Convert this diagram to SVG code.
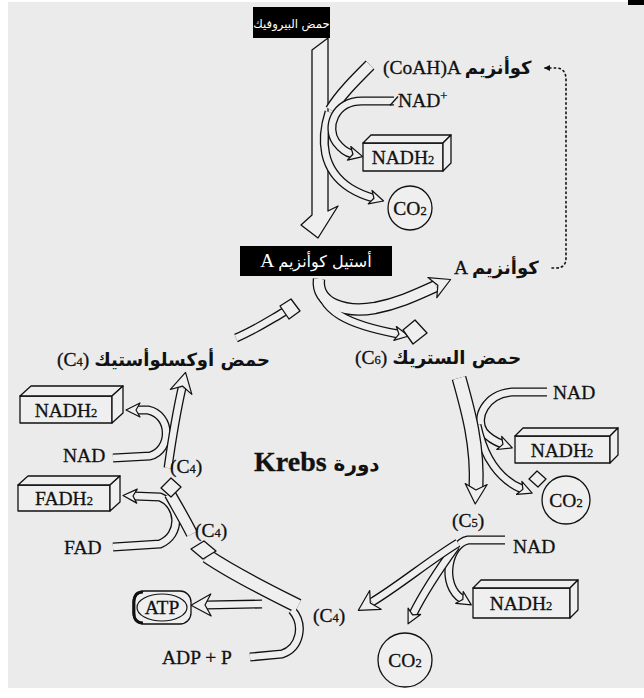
<svg xmlns="http://www.w3.org/2000/svg" width="644" height="698" viewBox="0 0 644 698">
<style>
.o{fill:none;stroke:#111;stroke-linejoin:round}
.i{fill:none;stroke:#efefef;stroke-linejoin:round}
.o8{stroke-width:9}.i8{stroke-width:6.4}
.o12{stroke-width:12.5}.i12{stroke-width:9.9}
.o14{stroke-width:15}.i14{stroke-width:12.4}
.hs{marker-end:url(#mS)}.hl{marker-end:url(#mL)}
.ln{fill:#efefef;stroke:#111;stroke-width:1.3;stroke-linejoin:round}
.lat{font-family:"Liberation Serif",serif;font-size:19.5px;fill:#111;stroke:#111;stroke-width:0.3}
.ar{font-family:"DejaVu Sans",sans-serif;font-weight:bold;font-size:18px;fill:#111;stroke:none}
.sub{font-size:12.5px}
.c{text-anchor:middle}
.wt{fill:#fff;stroke:none;font-family:"DejaVu Sans",sans-serif}
</style>
<defs>
<marker id="mS" markerUnits="userSpaceOnUse" viewBox="-4 -9 17 18" refX="0" refY="0" markerWidth="17" markerHeight="18" orient="auto" overflow="visible">
<path d="M-3,-7 L11,0 L-3,7 L1,0 Z" fill="#efefef" stroke="#111" stroke-width="1.2" stroke-linejoin="round"/>
</marker>
<marker id="mL" markerUnits="userSpaceOnUse" viewBox="-5 -12 23 24" refX="0" refY="0" markerWidth="23" markerHeight="24" orient="auto" overflow="visible">
<path d="M-4,-11 L16,0 L-4,11 L2,0 Z" fill="#efefef" stroke="#111" stroke-width="1.2" stroke-linejoin="round"/>
</marker>
<marker id="mD" markerUnits="userSpaceOnUse" viewBox="-6 -4 8 8" refX="0" refY="0" markerWidth="8" markerHeight="8" orient="auto" overflow="visible">
<path d="M-5,-3 L1,0 L-5,3 Z" fill="#111"/>
</marker>
<path id="p-nadp" d="M394,101 L362,101 C334,101 326,128 336,142 C342,150 348,153 352,154"/>
<path id="p-co2a" d="M329,112 C320,140 322,170 350,188 C358,193 366,196 373,198"/>
<path id="p-coa" d="M370,65 C355,80 340,95 331,110"/>
<path id="p-ac1" d="M319,279 C316,304 345,313 375,308 C400,303 418,294 436,286"/>
<path id="p-ac2" d="M319,279 C318,312 350,325 398,334"/>
<path id="p-ox" d="M236,338 C255,330 270,320 284,312"/>
<path id="p-cit" d="M459,378 C468,410 478,445 476,488"/>
<path id="p-nad1" d="M547,392 L512,392 C486,394 474,418 484,432 C489,438 494,441 502,444"/>
<path id="p-co2b" d="M477,425 C484,458 500,480 522,489"/>
<path id="p-c5c4" d="M458,543 C430,560 400,585 372,602"/>
<path id="p-co2c" d="M456,546 C440,568 425,590 413,614"/>
<path id="p-nad3" d="M505,540 L468,540 C448,544 440,585 462,599"/>
<path id="p-big" d="M298,606 C270,592 235,575 207,556"/>
<path id="p-adp" d="M250,657 L282,654 C300,648 305,625 292,610"/>
<path id="p-atp" d="M262,604 L207,605"/>
<path id="p-c4ox" d="M168,468 C172,440 177,410 182,388"/>
<path id="p-nad2" d="M113,458 L150,456 C172,450 172,415 148,410 L137,410"/>
<path id="p-c4c4" d="M192,534 C184,518 176,505 170,494"/>
<path id="p-fad" d="M113,547 L160,544 C182,535 180,505 160,497 L134,496"/>
</defs>

<rect x="0" y="0" width="644" height="698" fill="#ffffff"/>
<rect x="8" y="2" width="636" height="686" fill="#ebebeb"/>
<rect x="628" y="0" width="16" height="5" fill="#000"/>

<g id="connectors">
<polygon class="ln" points="312,50 328,38 328,211 338,206 318,238 301,225 312,215"/>
<use href="#p-coa" class="o o12"/><use href="#p-coa" class="i i12"/>
<use href="#p-co2a" class="o o8"/><use href="#p-co2a" class="i i8 hs"/>
<use href="#p-nadp" class="o o8"/><use href="#p-nadp" class="i i8 hs"/>
<line x1="390" y1="105.5" x2="398" y2="96.5" stroke="#111" stroke-width="1.3"/>
<path d="M552,268 L556,268 Q566,268 566,258 L566,80 Q566,68 556,68 L545,68" fill="none" stroke="#111" stroke-width="1.6" stroke-dasharray="1.5 3.2" stroke-linecap="round" marker-end="url(#mD)"/>
<use href="#p-ac2" class="o o8"/><use href="#p-ac1" class="o o12"/>
<use href="#p-ac2" class="i i8 hs"/><use href="#p-ac1" class="i i12 hl"/>
<polygon class="ln" points="403,330 415,320 427,333 413,344"/>
<use href="#p-ox" class="o o8"/><use href="#p-ox" class="i i8"/>
<polygon class="ln" points="280,306 291,299 300,311 289,319"/>
<use href="#p-nad1" class="o o8"/><use href="#p-nad1" class="i i8 hs"/>
<use href="#p-co2b" class="o o8"/><use href="#p-co2b" class="i i8 hs"/>
<use href="#p-cit" class="o o14"/><use href="#p-cit" class="i i14 hl"/>
<polygon class="ln" points="529,479 537,471 546,479 538,487"/>
<use href="#p-nad3" class="o o8"/><use href="#p-nad3" class="i i8 hs"/>
<use href="#p-co2c" class="o o8"/><use href="#p-co2c" class="i i8 hs"/>
<use href="#p-c5c4" class="o o8"/><use href="#p-c5c4" class="i i8 hl"/>
<use href="#p-atp" class="o o8"/><use href="#p-atp" class="i i8 hl"/>
<use href="#p-adp" class="o o8"/><use href="#p-big" class="o o14"/>
<use href="#p-adp" class="i i8"/><use href="#p-big" class="i i14"/>
<polygon class="ln" points="191,549 204,541 216,551 203,559"/>
<use href="#p-fad" class="o o8"/><use href="#p-fad" class="i i8 hs"/>
<use href="#p-c4c4" class="o o12"/><use href="#p-c4c4" class="i i12"/>
<polygon class="ln" points="161,488 171,478 181,487 171,497"/>
<use href="#p-nad2" class="o o8"/><use href="#p-nad2" class="i i8 hs"/>
<use href="#p-c4ox" class="o o8"/><use href="#p-c4ox" class="i i8 hl"/>
</g>

<g id="pyruvate">
<rect x="253" y="7" width="77" height="31" fill="#000"/>
<text x="291.5" y="27.5" class="wt c" style="font-size:11.6px">حمض البيروفيك</text>
</g>
<g id="coa-top"><text x="383" y="74" class="lat">(CoAH)A <tspan class="ar">كوأنزيم</tspan></text></g>
<g id="nadp-top"><text x="398" y="107" class="lat">NAD<tspan class="sub" dy="-7">+</tspan></text></g>
<g id="nadh2-top">
<rect class="ln" x="363" y="143" width="80" height="28"/>
<polygon class="ln" points="363,143 371,135 451,135 443,143"/>
<polygon class="ln" points="443,143 451,135 451,163 443,171"/>
<text x="403" y="164" class="lat c">NADH<tspan class="sub">2</tspan></text>
</g>
<g id="co2-top"><circle class="ln" cx="410" cy="208" r="22"/><text x="410" y="215" class="lat c">CO<tspan class="sub">2</tspan></text></g>
<g id="acetyl">
<rect x="240" y="246" width="152" height="30" fill="#000"/>
<text x="316" y="267" class="lat c" style="fill:#fff;stroke:none">A <tspan class="wt" style="font-size:16px">أستيل كوأنزيم</tspan></text>
</g>
<g id="coa-bottom"><text x="454" y="274" class="lat">A <tspan class="ar">كوأنزيم</tspan></text></g>
<g id="citric"><text x="355" y="364" class="lat">(C<tspan class="sub">6</tspan>) <tspan class="ar">حمض الستريك</tspan></text></g>
<g id="oxalo"><text x="57" y="366" class="lat">(C<tspan class="sub">4</tspan>) <tspan class="ar">حمض أوكسلوأستيك</tspan></text></g>
<g id="nad-r1"><text x="553" y="399" class="lat">NAD</text></g>
<g id="nadh2-r">
<rect class="ln" x="515" y="436" width="95" height="27"/>
<polygon class="ln" points="515,436 523,428 618,428 610,436"/>
<polygon class="ln" points="610,436 618,428 618,455 610,463"/>
<text x="562" y="457" class="lat c">NADH<tspan class="sub">2</tspan></text>
</g>
<g id="co2-r"><circle class="ln" cx="566" cy="500" r="24"/><text x="566" y="507" class="lat c">CO<tspan class="sub">2</tspan></text></g>
<g id="c5"><text x="452" y="527" class="lat">(C<tspan class="sub">5</tspan>)</text></g>
<g id="nad-r2"><text x="513" y="553" class="lat">NAD</text></g>
<g id="nadh2-b">
<rect class="ln" x="473" y="588" width="97" height="30"/>
<polygon class="ln" points="473,588 481,580 578,580 570,588"/>
<polygon class="ln" points="570,588 578,580 578,610 570,618"/>
<text x="521" y="610" class="lat c">NADH<tspan class="sub">2</tspan></text>
</g>
<g id="co2-b"><circle class="ln" cx="405" cy="660" r="27"/><text x="405" y="667" class="lat c">CO<tspan class="sub">2</tspan></text></g>
<g id="c4-b"><text x="313" y="622" class="lat">(C<tspan class="sub">4</tspan>)</text></g>
<g id="atp">
<rect class="ln" x="133" y="591" width="58" height="33" rx="11"/>
<path d="M143,592 Q134,592 134,602 L134,613 Q134,623 143,623" fill="none" stroke="#111" stroke-width="2.8"/>
<ellipse cx="162" cy="607.5" rx="25" ry="13.5" fill="none" stroke="#111" stroke-width="1.2"/>
<text x="162" y="614" class="lat c">ATP</text>
</g>
<g id="adp"><text x="162" y="664" class="lat">ADP + P</text></g>
<g id="fad"><text x="64" y="554" class="lat">FAD</text></g>
<g id="fadh2">
<rect class="ln" x="18" y="485" width="92" height="26"/>
<polygon class="ln" points="18,485 28,476 120,476 110,485"/>
<polygon class="ln" points="110,485 120,476 120,502 110,511"/>
<text x="64" y="505" class="lat c">FADH<tspan class="sub">2</tspan></text>
</g>
<g id="c4-l2"><text x="195" y="537" class="lat">(C<tspan class="sub">4</tspan>)</text></g>
<g id="c4-l1"><text x="170" y="473" class="lat">(C<tspan class="sub">4</tspan>)</text></g>
<g id="nad-l"><text x="63" y="462" class="lat">NAD</text></g>
<g id="nadh2-l">
<rect class="ln" x="20" y="396" width="92" height="27"/>
<polygon class="ln" points="20,396 31,386 123,386 112,396"/>
<polygon class="ln" points="112,396 123,386 123,413 112,423"/>
<text x="66" y="417" class="lat c">NADH<tspan class="sub">2</tspan></text>
</g>
<g id="krebs"><text x="254" y="471" class="lat" style="font-weight:bold;font-size:28px">Krebs <tspan class="ar" style="font-size:20px">دورة</tspan></text></g>
</svg>
